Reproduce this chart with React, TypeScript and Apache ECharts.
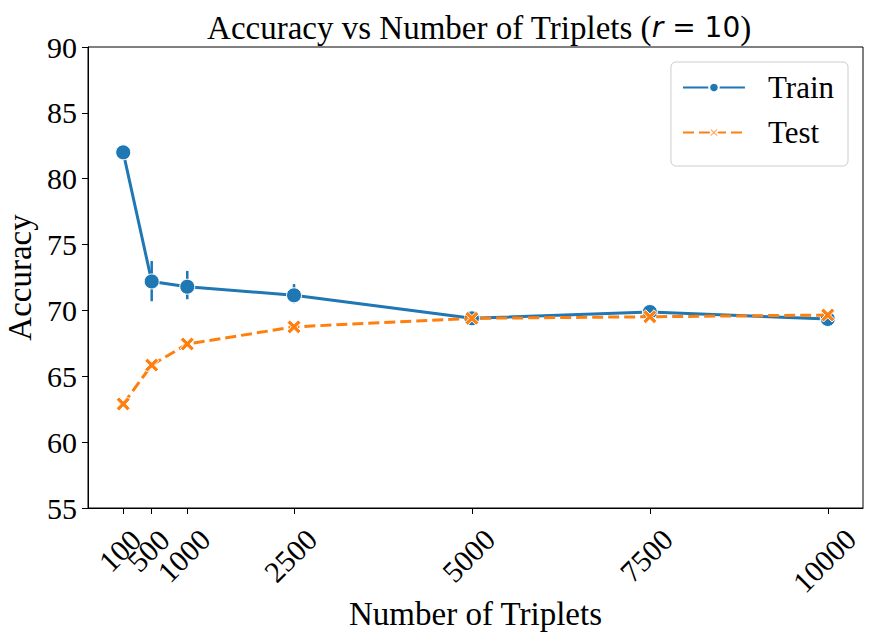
import React, { useEffect, useRef } from "react";
import * as echarts from "echarts";

const triplets = [100, 500, 1000, 2500, 5000, 7500, 10000];
const trainAcc = [82.0, 72.2, 71.8, 71.15, 69.4, 69.88, 69.35];
const testAcc = [62.9, 65.85, 67.45, 68.75, 69.4, 69.52, 69.65];
const trainErrLow = [null, 70.7, 70.85, 70.55, null, null, null];
const trainErrHigh = [null, 73.75, 73.0, 72.0, null, null, null];
const yTicks = [55, 60, 65, 70, 75, 80, 85, 90];
// tick labels split into groups so that overlapping labels are all kept
const xLabelGroups = [[1000, 2500, 5000, 7500], [100], [500], [10000]];

const FONT = "'Liberation Serif', 'Times New Roman', serif";
const BLUE = "#1f77b4";
const ORANGE = "#ff7f0e";
const X_SYMBOL = "path://M0 2L2 0L5 3L8 0L10 2L7 5L10 8L8 10L5 7L2 10L0 8L3 5Z";

const X_MIN = -395;
const X_MAX = 10495;

const labelStyle = (values: number[]) => {
  const len = String(values[0]).length;
  const margin = len === 3 ? 39 : len === 4 ? 44 : 49;
  return {
    customValues: values,
    formatter: (v: number) => String(v),
    rotate: 45,
    align: "center",
    verticalAlign: "middle",
    margin,
    padding: [0, 10, 0, 0],
    fontFamily: FONT,
    fontSize: 30,
    color: "#000",
    hideOverlap: false,
    showMinLabel: true,
    showMaxLabel: true,
  };
};

export default function App() {
  const ref = useRef<HTMLDivElement>(null);
  useEffect(() => {
    if (!ref.current) return;
    const chart = echarts.init(ref.current, null, { renderer: "svg" });
    const errData = triplets
      .map((x, i) => [x, trainErrLow[i], trainErrHigh[i]])
      .filter((d) => d[1] != null);
    const xAxes = xLabelGroups.map((vals, gi) =>
      gi === 0
        ? {
            type: "value",
            min: X_MIN,
            max: X_MAX,
            name: "Number of Triplets",
            nameLocation: "middle",
            nameGap: 89,
            nameTextStyle: { fontFamily: FONT, fontSize: 33, color: "#000" },
            axisLine: { show: true, onZero: false, lineStyle: { color: "#000", width: 1 } },
            axisTick: { show: true, length: 6, lineStyle: { color: "#000" }, customValues: triplets },
            axisLabel: labelStyle(vals),
            splitLine: { show: false },
          }
        : {
            type: "value",
            min: X_MIN,
            max: X_MAX,
            position: "bottom",
            offset: 0,
            axisLine: { show: false, onZero: false },
            axisTick: { show: false },
            axisLabel: labelStyle(vals),
            splitLine: { show: false },
          }
    );
    chart.setOption({
      animation: false,
      backgroundColor: "#fff",
      title: {
        text: "{a|Accuracy vs Number of Triplets (}{m|r}{s| = 10}{a|)}",
        left: 474,
        top: 6,
        textAlign: "center",
        textStyle: {
          fontWeight: "normal",
          rich: {
            a: { fontFamily: FONT, fontSize: 33, fontWeight: "normal", color: "#000" },
            m: { fontFamily: "'DejaVu Sans'", fontStyle: "italic", fontWeight: "normal", fontSize: 28, color: "#000" },
            s: { fontFamily: "'DejaVu Sans'", fontWeight: "normal", fontSize: 28, color: "#000" },
          },
        },
      },
      grid: {
        left: 88,
        right: 13,
        top: 47,
        bottom: 135,
        show: true,
        borderColor: "#000",
        borderWidth: 1,
        containLabel: false,
        outerBoundsMode: "none",
      },
      legend: {
        orient: "vertical",
        right: 28,
        top: 62,
        backgroundColor: "#fff",
        borderColor: "#cccccc",
        borderWidth: 1,
        borderRadius: 5,
        padding: [10, 14, 18, 11],
        itemWidth: 62,
        itemHeight: 12,
        itemGap: 14,
        lineStyle: { width: 2 },
        textStyle: { fontFamily: FONT, fontSize: 31, color: "#000", padding: [0, 0, 0, 18] },
        data: ["Train", "Test"],
      },
      xAxis: xAxes,
      yAxis: {
        type: "value",
        min: 55,
        max: 90,
        interval: 5,
        name: "Accuracy",
        nameLocation: "middle",
        nameGap: 48,
        nameTextStyle: { fontFamily: FONT, fontSize: 33, color: "#000" },
        axisLine: { show: true, onZero: false, lineStyle: { color: "#000", width: 1 } },
        axisTick: { show: true, length: 6, lineStyle: { color: "#000" } },
        axisLabel: {
          margin: 11,
          fontFamily: FONT,
          fontSize: 30,
          color: "#000",
          formatter: (v: number) => (yTicks.includes(v) ? String(v) : ""),
        },
        splitLine: { show: false },
      },
      series: [
        {
          type: "custom",
          name: "trainErr",
          z: 1,
          data: errData,
          renderItem: (params: any, api: any) => {
            const x = api.value(0);
            const p1 = api.coord([x, api.value(1)]);
            const p2 = api.coord([x, api.value(2)]);
            return {
              type: "line",
              shape: { x1: p1[0], y1: p1[1], x2: p2[0], y2: p2[1] },
              style: { stroke: BLUE, lineWidth: 2.5 },
            };
          },
        },
        {
          type: "line",
          name: "Train",
          z: 2,
          data: triplets.map((x, i) => [x, trainAcc[i]]),
          symbol: "circle",
          symbolSize: 15,
          showAllSymbol: true,
          lineStyle: { color: BLUE, width: 3 },
          itemStyle: { color: BLUE, borderColor: "#fff", borderWidth: 1 },
        },
        {
          type: "line",
          name: "Test",
          z: 3,
          data: triplets.map((x, i) => [x, testAcc[i]]),
          symbol: X_SYMBOL,
          symbolSize: 14,
          showAllSymbol: true,
          lineStyle: { color: ORANGE, width: 3, type: [11, 5] },
          itemStyle: { color: ORANGE, borderColor: "#fff", borderWidth: 1 },
        },
      ],
    });
    return () => chart.dispose();
  }, []);
  return (
    <div
      ref={ref}
      style={{ position: "fixed", left: 0, top: 0, width: 876, height: 643 }}
    />
  );
}
